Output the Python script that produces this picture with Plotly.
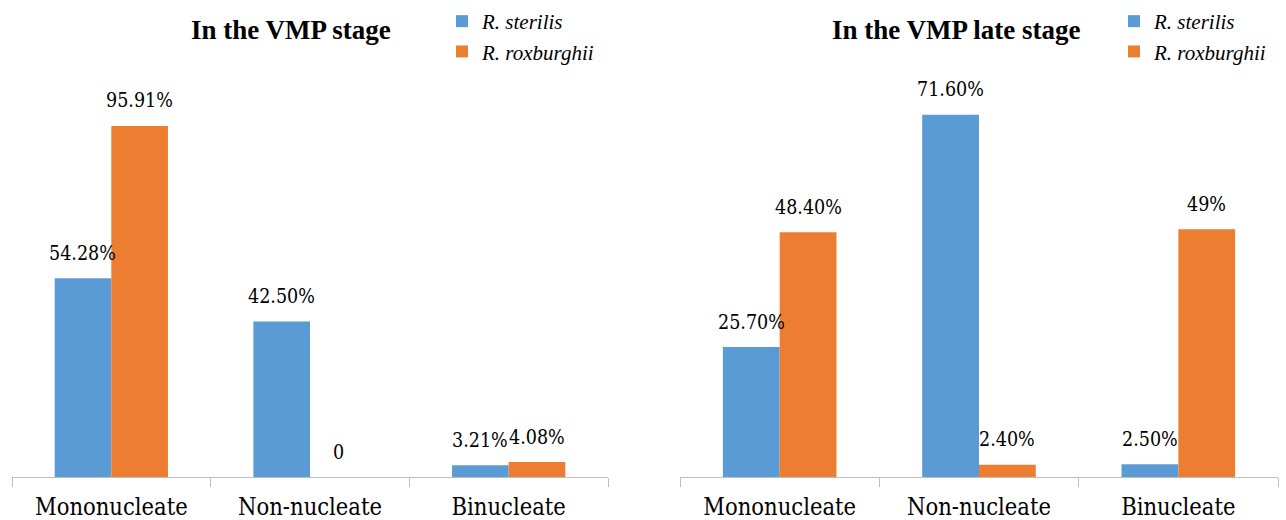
import plotly.graph_objects as go

categories = ["Mononucleate", "Non-nucleate", "Binucleate"]
series_names = ["<i>R. sterilis</i>", "<i>R. roxburghii</i>"]
colors = ["#5B9BD5", "#ED7D31"]

early_sterilis = [54.28, 42.50, 3.21]
early_roxburghii = [95.91, 0, 4.08]
early_labels_sterilis = ["54.28%", "42.50%", "3.21%"]
early_labels_roxburghii = ["95.91%", "0", "4.08%"]

late_sterilis = [25.70, 71.60, 2.50]
late_roxburghii = [48.40, 2.40, 49]
late_labels_sterilis = ["25.70%", "71.60%", "2.50%"]
late_labels_roxburghii = ["48.40%", "2.40%", "49%"]

titles = ["In the VMP stage", "In the VMP late stage"]

FONT = "Times New Roman"            # bold / italic text
REG = "DejaVu Serif Condensed"      # regular serif text
W, H = 1286, 520

fig = go.Figure()

panels = [
    ("x", "y", "legend", early_sterilis, early_roxburghii, early_labels_sterilis, early_labels_roxburghii),
    ("x2", "y2", "legend2", late_sterilis, late_roxburghii, late_labels_sterilis, late_labels_roxburghii),
]

for xa, ya, lg, s_vals, r_vals, s_lab, r_lab in panels:
    for name, vals, col in zip(series_names, [s_vals, r_vals], colors):
        fig.add_trace(go.Bar(
            x=categories, y=vals, name=name, marker=dict(color=col, line=dict(width=0)),
            xaxis=xa, yaxis=ya, legend=lg, hoverinfo="skip",
        ))
    for vals, labs, shift in [(s_vals, s_lab, -28.5), (r_vals, r_lab, 28.5)]:
        for c, v, t in zip(categories, vals, labs):
            fig.add_annotation(
                x=c, y=v, xref=xa, yref=ya, text=t, showarrow=False,
                xshift=shift, yshift=25, yanchor="middle", xanchor="center",
                font=dict(family=REG, size=19.5, color="black"),
            )

fig.add_annotation(x=291 / W, y=1 - 30 / H, xref="paper", yref="paper", text="<b>" + titles[0] + "</b>",
                   showarrow=False, xanchor="center", yanchor="middle",
                   font=dict(family=FONT, size=27, color="black"))
fig.add_annotation(x=956 / W, y=1 - 30 / H, xref="paper", yref="paper", text="<b>" + titles[1] + "</b>",
                   showarrow=False, xanchor="center", yanchor="middle",
                   font=dict(family=FONT, size=27, color="black"))

xaxis_common = dict(
    type="category", showgrid=False, zeroline=False, showline=True, linecolor="#BFBFBF", linewidth=1,
    ticks="outside", tickson="boundaries", ticklen=9, tickcolor="#BFBFBF", ticklabelstandoff=9,
    tickfont=dict(family=REG, size=23.5, color="black"), fixedrange=True, automargin=False,
)
yaxis_common = dict(visible=False, showgrid=False, zeroline=False, fixedrange=True, automargin=False)

legend_common = dict(
    font=dict(family=FONT, size=21, color="black"), bgcolor="rgba(0,0,0,0)",
    borderwidth=0, tracegroupgap=0, xanchor="left", yanchor="top", itemclick=False,
)

fig.update_layout(
    width=W, height=H, margin=dict(l=0, r=0, t=0, b=0, autoexpand=False),
    paper_bgcolor="white", plot_bgcolor="white",
    barmode="group", bargap=0.43, bargroupgap=0,
    showlegend=True,
    xaxis=dict(domain=[12 / W, 608 / W], anchor="y", **xaxis_common),
    xaxis2=dict(domain=[680 / W, 1278 / W], anchor="y2", **xaxis_common),
    yaxis=dict(domain=[43 / H, 1], range=[0, 130.3], anchor="x", **yaxis_common),
    yaxis2=dict(domain=[43 / H, 1], range=[0, 94.3], anchor="x2", **yaxis_common),
    legend=dict(x=442 / W, y=1 - 1 / H, **legend_common),
    legend2=dict(x=1114 / W, y=1 - 1 / H, **legend_common),
)

fig.write_html("out.html", config={"displayModeBar": False},
               post_script="document.body.style.margin='0';")
